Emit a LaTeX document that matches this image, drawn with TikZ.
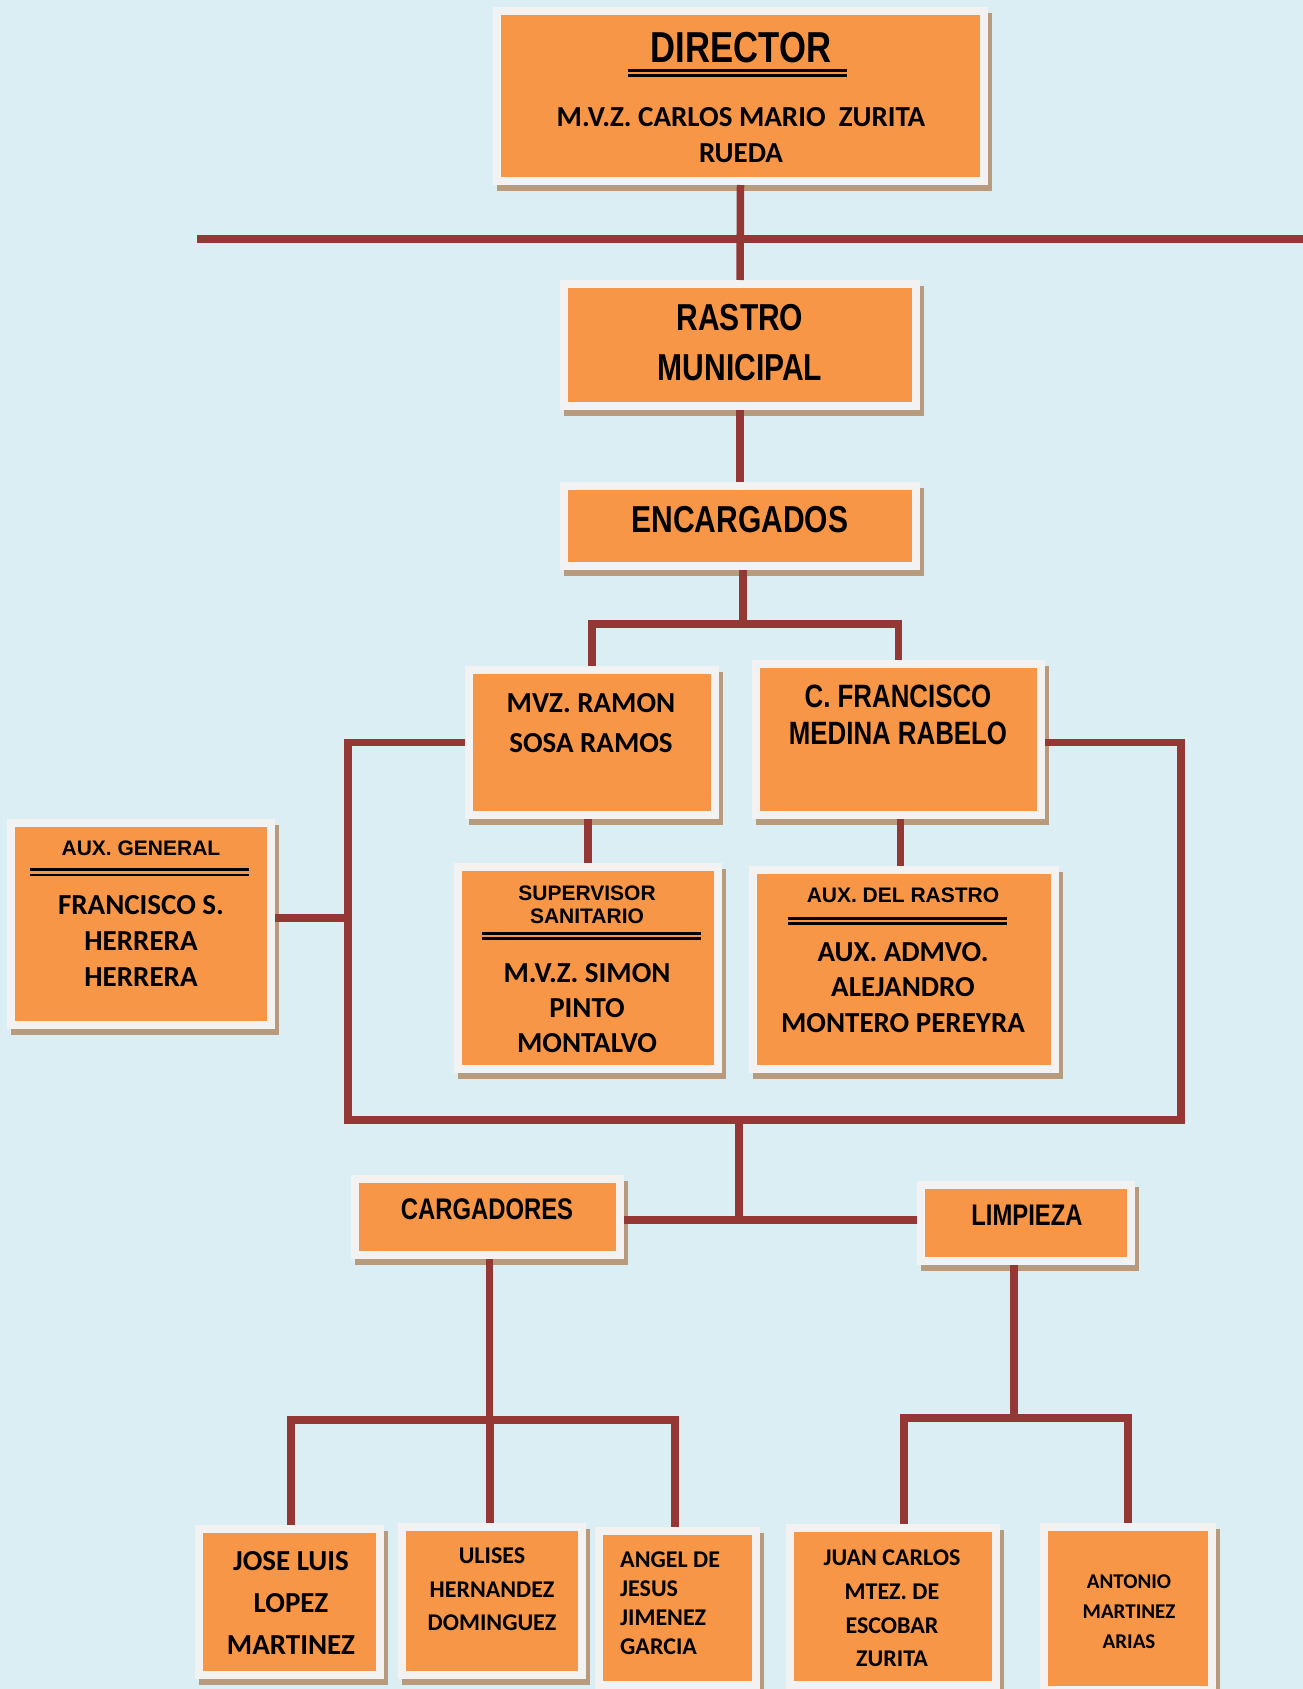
\documentclass[tikz,border=0pt]{standalone}
\usepackage{fontspec}
\newfontfamily\calfont{Carlito}
\newfontfamily\arfont{Liberation Sans}
\newfontfamily\narfont{Liberation Sans}[FakeStretch=0.8]
\definecolor{bgc}{HTML}{DBEEF4}
\definecolor{orangec}{HTML}{F79646}
\definecolor{framec}{HTML}{F2F2F2}
\definecolor{shadowc}{HTML}{B89B7C}
\definecolor{linec}{HTML}{953735}
\tikzset{
  obx/.style={rectangle, draw=framec, fill=orangec, line width=8pt, outer sep=4pt, inner sep=0pt},
  conn/.style={draw=linec, line width=7.5pt},
  calt/.style 2 args={inner sep=0pt, align=center, font=\calfont\bfseries\fontsize{#1}{#2}\selectfont},
  art/.style 2 args={inner sep=0pt, align=center, font=\arfont\bfseries\fontsize{#1}{#2}\selectfont},
  nart/.style 2 args={inner sep=0pt, align=center, font=\narfont\bfseries\fontsize{#1}{#2}\selectfont},
}
\newcommand\orgbox[5]{%
  \fill[shadowc] (#2+4,#3+6) rectangle (#4+4,#5+6);
  \node[obx, minimum width={#4-#2-8}, minimum height={#5-#3-8}] (#1) at ({(#2+#4)/2},{(#3+#5)/2}) {};
}
\newcommand\dblrule[3]{%
  \draw[line width=3pt] (#1,#3) -- (#2,#3);
  \draw[line width=2.5pt] (#1,#3+5.3) -- (#2,#3+5.3);
}
\begin{document}
\begin{tikzpicture}[x=1pt,y=-1pt]
\useasboundingbox (0,0) rectangle (1303,1689);
\fill[bgc] (0,0) rectangle (1303,1689);

% boxes
\orgbox{dir}{493}{7}{988}{185}
\orgbox{rastro}{560}{280}{920}{410}
\orgbox{enc}{560}{482}{920}{570}
\orgbox{ramon}{465}{666}{719}{819}
\orgbox{fran}{752}{660}{1045}{819}
\orgbox{sup}{454}{863}{722}{1073}
\orgbox{auxr}{749}{866}{1059}{1073}
\orgbox{auxg}{7}{819}{275}{1029}
\orgbox{carg}{351}{1175}{624}{1259}
\orgbox{limp}{917}{1181}{1135}{1265}
\orgbox{jose}{195}{1525}{384}{1679}
\orgbox{ulis}{398}{1523}{586}{1679}
\orgbox{angel}{595}{1527}{760}{1689}
\orgbox{juan}{786}{1524}{1000}{1689}
\orgbox{anto}{1040}{1523}{1216}{1694}

% texts
\node[nart={43.3}{50}] (dirT) at (741,48) {DIRECTOR};
\dblrule{628}{847}{70}
\node[calt={29}{36}] (dirN) at (741,135) {M.V.Z. CARLOS MARIO~ ZURITA\\RUEDA};
\node[nart={37.5}{50}] (rasT) at (740,343) {RASTRO\\MUNICIPAL};
\node[nart={37.5}{44}] (encT) at (740,520) {ENCARGADOS};
\node[calt={29}{40}] (ramT) at (591,723) {MVZ. RAMON\\SOSA RAMOS};
\node[nart={32.3}{37}] (franT) at (898,714.5) {C. FRANCISCO\\MEDINA RABELO};
\node[art={21}{23}] (supH) at (587,904.5) {SUPERVISOR\\SANITARIO};
\dblrule{482}{701}{933}
\node[calt={29}{35}] (supN) at (587,1008) {M.V.Z. SIMON\\PINTO\\MONTALVO};
\node[art={21}{25}] (auxrH) at (903,895) {AUX. DEL RASTRO};
\dblrule{788}{1007}{918}
\node[calt={29}{35.5}] (auxrN) at (903,987.5) {AUX. ADMVO.\\ALEJANDRO\\MONTERO PEREYRA};
\node[art={21}{25}] (auxgH) at (141,848) {AUX. GENERAL};
\dblrule{30}{249}{869.7}
\node[calt={29}{36}] (auxgN) at (141,941) {FRANCISCO S.\\HERRERA\\HERRERA};
\node[nart={29.8}{35}] (cargT) at (487,1209) {CARGADORES};
\node[nart={29.8}{35}] (limpT) at (1027,1215) {LIMPIEZA};
\node[calt={29}{42}] (joseT) at (291,1603) {JOSE LUIS\\LOPEZ\\MARTINEZ};
\node[calt={24}{33.5}] (ulisT) at (492,1589.5) {ULISES\\HERNANDEZ\\DOMINGUEZ};
\node[calt={24}{29}, align=left, anchor=west] (angT) at (620,1603.5) {ANGEL DE\\JESUS\\JIMENEZ\\GARCIA};
\node[calt={24}{33.7}] (juanT) at (892,1608.5) {JUAN CARLOS\\MTEZ. DE\\ESCOBAR\\ZURITA};
\node[calt={21}{30}] (antT) at (1129,1612) {ANTONIO\\MARTINEZ\\ARIAS};

% connectors
\coordinate (hl) at (197,239);
\coordinate (hr) at (1310,239);
\draw[conn] (hl) -- (hr);
\draw[conn] (dir.south) -- (rastro.north);
\draw[conn] (rastro.south) -- (enc.north);
\coordinate (b1) at (743,624);
\draw[conn] ([xshift=3pt]enc.south) -- (b1);
\draw[conn] (ramon.north) |- (b1) -| (fran.north);
\coordinate (lc) at (348,1120);
\coordinate (rc) at (1181,1120);
\draw[conn] (ramon.west) -| (lc) -- (rc) |- (fran.east |- ramon.west);
\coordinate (ag) at ([yshift=6pt]auxg.east);
\draw[conn] (ag) -- (lc |- ag);
\draw[conn] (sup.north |- ramon.south) -- (sup.north);
\draw[conn] ([xshift=2pt]fran.south) -- ([xshift=2pt]fran.south |- auxr.north);
\coordinate (j1) at (739,1120);
\coordinate (j2) at (739,1220);
\draw[conn] (j1) -- (j2);
\draw[conn] (carg.east |- j2) -- (limp.west |- j2);
\coordinate (cb) at (490,1420);
\draw[conn] ([xshift=2pt]carg.south) -- ([xshift=2pt]carg.south |- cb);
\draw[conn] ([xshift=1.5pt]jose.north) |- (cb) -| ([xshift=-2.5pt]angel.north);
\draw[conn] ([xshift=-2pt]ulis.north) -- ([xshift=-2pt]ulis.north |- cb);
\coordinate (lb) at (1014,1418);
\draw[conn] ([xshift=-12pt]limp.south) -- (lb);
\draw[conn] ([xshift=11pt]juan.north) |- (lb) -| (anto.north);
\end{tikzpicture}
\end{document}
